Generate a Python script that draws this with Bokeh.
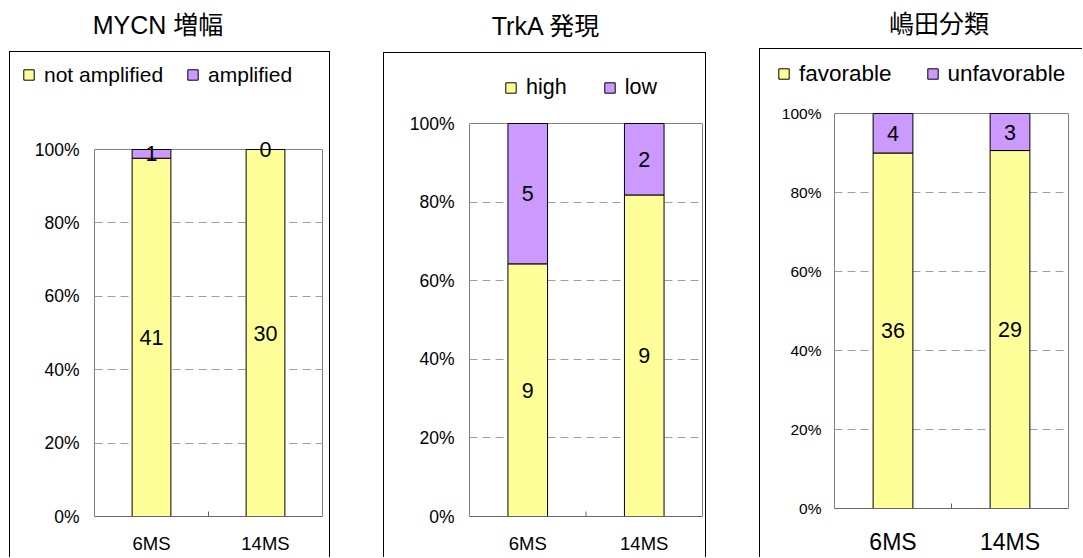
from bokeh.plotting import figure
from bokeh.models import (ColumnDataSource, FactorRange, Legend, LegendItem, LabelSet,
                          FixedTicker, Div, Spacer, NumeralTickFormatter, LinearAxis, Span)
from bokeh.core.properties import value
from bokeh.transform import dodge
from bokeh.layouts import row, column
from bokeh.embed import file_html
from bokeh.resources import INLINE

# ---------------- data ----------------
categories = ["6MS", "14MS"]

mycn_title = "MYCN 増幅"
mycn_names = ["not amplified", "amplified"]
mycn_not_amplified = [41, 30]
mycn_amplified = [1, 0]

trka_title = "TrkA 発現"
trka_names = ["high", "low"]
trka_high = [9, 9]
trka_low = [5, 2]

shimada_title = "嶋田分類"
shimada_names = ["favorable", "unfavorable"]
shimada_favorable = [36, 29]
shimada_unfavorable = [4, 3]

y_ticks = [0, 0.2, 0.4, 0.6, 0.8, 1.0]
grid_ticks = [0.2, 0.4, 0.6, 0.8]

YELLOW = "#FFFF99"
PURPLE = "#CC99FF"
FRAME = "#808080"
FONT = "Liberation Sans"
CJK = "'Liberation Sans', 'Noto Sans CJK JP', sans-serif"
BAR_W = 0.34
LEG_H = 25  # approx. legend row height (px)


def stack_source(lower, upper):
    totals = [a + b for a, b in zip(lower, upper)]
    lf = [a / t for a, t in zip(lower, totals)]
    uf = [b / t for b, t in zip(upper, totals)]
    return lf, uf, ColumnDataSource(dict(cat=categories, lower=lf, upper=uf))


def make_panel(title, names, lower, upper, g):
    lf, uf, src = stack_source(lower, upper)

    # ---- legend strip (top part of the chart box) ----
    pl = figure(x_range=FactorRange(*categories, range_padding=0), y_range=(0, 1),
                width=g["w"], height=g["lh"], min_border=0,
                min_border_left=0, min_border_right=0, min_border_top=0, min_border_bottom=0,
                x_axis_location=None, y_axis_location=None, frame_align=False,
                output_backend="svg", toolbar_location=None,
                outline_line_color=None, styles=g["lstyles"])
    pl.title.visible = False
    pl.xgrid.grid_line_color = None
    pl.ygrid.grid_line_color = None
    lrs = pl.vbar_stack(["lower", "upper"], x="cat", width=BAR_W, source=src,
                        color=[YELLOW, PURPLE], line_color="black", line_width=1)
    for r, c in zip(lrs, [YELLOW, PURPLE]):
        r.glyph.fill_color = c
        r.glyph.line_color = "black"
        r.visible = False
    c = g["leg_cy"] - (g["top"] - g["lh"])          # legend centre, from strip top
    legend = Legend(items=[LegendItem(label=names[0], renderers=[lrs[0]]),
                           LegendItem(label=names[1], renderers=[lrs[1]])],
                    location=(g["leg_x"] - (g["left"]), g["lh"] - c - LEG_H / 2),
                    orientation="horizontal",
                    glyph_width=13, glyph_height=13, label_standoff=9,
                    spacing=g["leg_sp"], padding=0, margin=0,
                    border_line_color=None, background_fill_alpha=0,
                    label_text_font=FONT, label_text_font_size=g["leg_fs"],
                    label_height=24, label_text_color="black")
    pl.add_layout(legend)

    # ---- main plot ----
    y0 = g["y0"] - g["top"]
    y100 = g["y100"] - g["top"]
    frame_h = g["h"] - g["bb"]
    ymax = frame_h / (y0 - y100)

    p = figure(x_range=FactorRange(*categories, range_padding=0), y_range=(0, ymax),
               width=g["w"], height=g["h"],
               min_border_left=g["bl"], min_border_right=g["br"],
               min_border_top=0, min_border_bottom=g["bb"], frame_align=False,
               output_backend="svg", toolbar_location=None,
               outline_line_color=None, styles=g["styles"])
    p.title.visible = False

    rs = p.vbar_stack(["lower", "upper"], x="cat", width=BAR_W, source=src,
                      color=[YELLOW, PURPLE], line_color="black", line_width=1)
    for r, c in zip(rs, [YELLOW, PURPLE]):
        r.glyph.fill_color = c
        r.glyph.line_color = "black"

    lab_x = categories + categories
    lab_y = [f / 2 for f in lf] + [a + b / 2 for a, b in zip(lf, uf)]
    lab_t = [str(v) for v in lower] + [str(v) for v in upper]
    lsrc = ColumnDataSource(dict(x=lab_x, y=lab_y, t=lab_t))
    p.add_layout(LabelSet(x="x", y="y", text="t", source=lsrc, text_align="center",
                          text_baseline="middle", text_font=value(FONT),
                          text_font_size=value(g["lab_fs"]), text_color="black"))

    p.yaxis.ticker = FixedTicker(ticks=y_ticks)
    p.yaxis.bounds = (0, 1)
    p.yaxis.formatter = NumeralTickFormatter(format="0%")
    p.yaxis.major_tick_out = 0
    p.yaxis.major_tick_in = 0
    p.yaxis.minor_tick_out = 0
    p.yaxis.minor_tick_in = 0
    p.yaxis.axis_line_color = FRAME
    p.yaxis.major_label_standoff = g["ystand"]
    p.yaxis.major_label_text_font = FONT
    p.yaxis.major_label_text_font_size = g["tick_fs"]
    p.yaxis.major_label_text_color = "black"

    ra = LinearAxis(ticker=FixedTicker(ticks=[]), bounds=(0, 1), axis_line_color=FRAME,
                    major_tick_out=0, major_tick_in=0, minor_tick_out=0, minor_tick_in=0,
                    major_label_standoff=0, major_label_text_font_size="0px")
    p.add_layout(ra, "right")
    p.add_layout(Span(location=1, dimension="width", line_color=FRAME, line_width=1,
                      level="underlay"))

    p.xaxis.major_tick_out = 0
    p.xaxis.major_tick_in = 0
    p.xaxis.axis_line_color = "#666666"
    p.xaxis.major_label_standoff = g["xstand"]
    p.xaxis.major_label_text_font = FONT
    p.xaxis.major_label_text_font_size = g["cat_fs"]
    p.xaxis.major_label_text_color = "black"

    tsrc = ColumnDataSource(dict(cat=categories[:1]))
    p.segment(x0=dodge("cat", 0.5, range=p.x_range), x1=dodge("cat", 0.5, range=p.x_range),
              y0=0, y1=5 / (y0 - y100), source=tsrc,
              line_color="#666666", line_width=1)

    p.xgrid.grid_line_color = None
    p.ygrid.ticker = FixedTicker(ticks=grid_ticks)
    p.ygrid.grid_line_color = "#a0a0a0"
    p.ygrid.grid_line_dash = "8 5"

    div = Div(text=(f'<div style="width:{g["tw"]}px;height:{g["th"]}px;line-height:{g["th"]}px;'
                    f'text-align:center;font-size:25px;font-family:{CJK};color:#000;'
                    f'white-space:nowrap">{title}</div>'),
              width=g["w"] + 2, height=g["th"], margin=0)
    return column(div, pl, p, spacing=0)


B = "1px solid #000"
g1 = dict(w=321, left=10, th=51, tw=298, lh=48, top=100, h=458, bl=84, br=9, bb=41,
          y0=517, y100=150,
          lstyles={"border-left": B, "border-right": B, "border-top": B},
          styles={"border-left": B, "border-right": B},
          ystand=15, xstand=16, tick_fs="17.5px", cat_fs="18.5px", lab_fs="21.5px",
          leg_fs="21px", leg_x=22, leg_cy=74, leg_sp=23)
g2 = dict(w=323, left=384, th=52, tw=325, lh=52, top=105, h=453, bl=85, br=5, bb=41,
          y0=517, y100=124,
          lstyles={"border-left": B, "border-right": B, "border-top": B},
          styles={"border-left": B, "border-right": B},
          ystand=15, xstand=16, tick_fs="17.5px", cat_fs="18.5px", lab_fs="21.5px",
          leg_fs="21.5px", leg_x=504, leg_cy=87, leg_sp=36)
g3 = dict(w=323, left=760, th=48, tw=360, lh=46, top=95, h=463, bl=74, br=15, bb=49,
          y0=509, y100=114,
          lstyles={"border-left": B, "border-top": B},
          styles={"border-left": B},
          ystand=13, xstand=20, tick_fs="15.5px", cat_fs="23px", lab_fs="21.5px",
          leg_fs="22.5px", leg_x=777, leg_cy=74, leg_sp=34)

p1 = make_panel(mycn_title, mycn_names, mycn_not_amplified, mycn_amplified, g1)
p2 = make_panel(trka_title, trka_names, trka_high, trka_low, g2)
p3 = make_panel(shimada_title, shimada_names, shimada_favorable, shimada_unfavorable, g3)

layout = row(Spacer(width=9, height=1), p1, Spacer(width=51, height=1), p2,
             Spacer(width=51, height=1), p3, spacing=0)

open("out.html", "w").write(file_html(layout, INLINE))
